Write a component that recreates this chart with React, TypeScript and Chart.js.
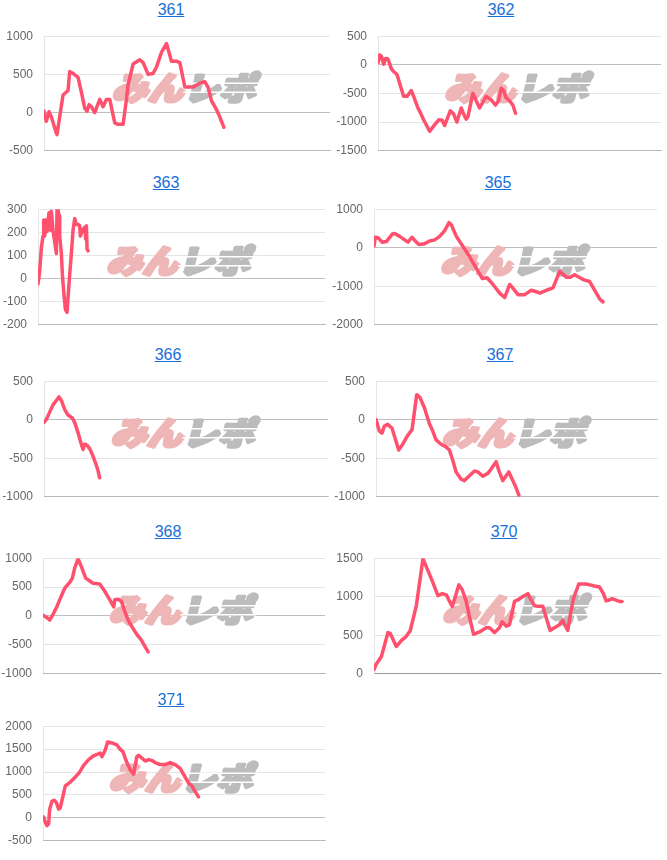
import React, { useEffect, useRef } from 'react';
import { Chart, registerables } from 'chart.js';

Chart.register(...registerables);

// ---- data (x = position in session, y = balance) ----
const x361 = [0, 7, 15, 22, 37, 39, 47, 57, 67, 72, 77, 85, 102, 112, 122, 129, 135, 142, 152, 167, 177, 187, 197, 212, 222, 237, 247, 252, 267, 287, 297, 312, 327, 337, 352, 367, 382, 397, 407, 422, 447, 467, 482, 492, 502, 517, 527, 539];
const y361 = [20, -115, 12, -58, -269, -288, -58, 231, 269, 288, 538, 519, 462, 269, 58, 19, 104, 77, 0, 173, 77, 173, 173, -135, -154, -154, 173, 365, 635, 692, 654, 500, 512, 596, 788, 904, 673, 673, 654, 335, 335, 385, 404, 327, 154, 38, -58, -192];

const x362 = [0, 5, 10, 17, 23, 30, 40, 47, 57, 65, 77, 87, 100, 107, 120, 127, 137, 155, 165, 183, 193, 200, 217, 227, 237, 250, 257, 265, 270, 285, 293, 305, 325, 340, 353, 362, 370, 377, 385, 395, 405, 413];
const y362 = [36, 173, 153, 10, 112, 102, -66, -117, -168, -321, -550, -550, -448, -550, -753, -830, -957, -1160, -1084, -957, -967, -1059, -804, -855, -998, -753, -855, -947, -906, -499, -601, -753, -550, -611, -702, -626, -407, -448, -575, -626, -702, -845];

const x363 = [0, 5, 10, 15, 17, 20, 23, 27, 30, 33, 37, 40, 45, 50, 55, 57, 60, 63, 65, 68, 70, 73, 77, 82, 87, 90, 95, 100, 105, 110, 115, 120, 125, 127, 133, 140, 143, 145, 147, 150];
const y363 = [-23, 32, 133, 184, 253, 184, 253, 203, 247, 285, 209, 291, 209, 158, 108, 297, 300, 272, 184, 139, 108, 19, -57, -133, -146, -82, 19, 108, 209, 260, 234, 234, 228, 184, 209, 222, 171, 228, 127, 120];

const x365 = [0, 4, 12, 25, 37, 55, 62, 77, 102, 114, 127, 135, 152, 167, 182, 197, 212, 225, 232, 247, 267, 287, 307, 325, 339, 357, 377, 392, 407, 415, 432, 452, 472, 487, 497, 517, 537, 557, 577, 589, 602, 622, 632, 647, 657, 677, 687];
const y365 = [45, 272, 257, 144, 159, 355, 370, 295, 144, 272, 144, 83, 106, 174, 204, 295, 446, 650, 597, 295, 30, -234, -537, -801, -779, -953, -1179, -1293, -953, -1028, -1217, -1217, -1104, -1141, -1179, -1104, -1043, -612, -763, -763, -703, -801, -839, -877, -1028, -1330, -1406];

const x366 = [0, 7, 17, 27, 37, 45, 52, 62, 72, 85, 92, 102, 112, 117, 122, 129, 137, 145, 155, 162, 167];
const y366 = [-34, 4, 99, 193, 250, 296, 250, 136, 61, 23, -34, -167, -318, -387, -318, -330, -375, -451, -565, -659, -754];

const x367 = [0, 10, 18, 25, 35, 48, 60, 68, 80, 95, 108, 115, 122, 132, 145, 160, 170, 180, 195, 210, 220, 230, 240, 255, 265, 280, 295, 305, 320, 335, 345, 360, 368, 380, 390, 398, 410, 418, 428];
const y367 = [4, -147, -174, -83, -60, -110, -280, -393, -318, -204, -129, 98, 325, 287, 155, -53, -147, -261, -318, -355, -393, -525, -677, -771, -790, -726, -665, -677, -733, -696, -639, -544, -658, -790, -726, -677, -790, -866, -979];

const x368 = [0, 10, 20, 30, 40, 50, 65, 80, 88, 95, 105, 115, 128, 140, 150, 170, 182, 195, 205, 212, 215, 225, 235, 245, 255, 265, 280, 295, 315];
const y368 = [15, -20, -70, 30, 140, 280, 480, 580, 655, 830, 990, 855, 655, 605, 565, 555, 455, 330, 230, 155, 280, 290, 255, 80, -70, -170, -310, -420, -620];

const x370 = [0, 7, 22, 42, 49, 67, 82, 97, 109, 127, 137, 147, 157, 177, 192, 205, 217, 227, 235, 245, 255, 265, 277, 287, 299, 317, 337, 347, 362, 377, 385, 397, 407, 422, 432, 447, 462, 472, 482, 495, 507, 517, 529, 542, 557, 567, 575, 582, 589, 599, 615, 637, 649, 662, 677, 689, 697, 707, 715, 725, 737, 745];
const y370 = [53, 128, 222, 535, 524, 354, 430, 486, 562, 882, 1184, 1493, 1391, 1184, 1014, 1040, 1025, 939, 875, 1014, 1154, 1090, 939, 731, 513, 543, 599, 599, 535, 599, 675, 618, 637, 939, 958, 1003, 1040, 958, 882, 875, 875, 731, 562, 599, 637, 694, 618, 562, 750, 976, 1165, 1165, 1154, 1139, 1127, 1040, 946, 958, 976, 958, 939, 939];

const x371 = [2, 7, 12, 17, 20, 27, 34, 40, 47, 52, 60, 67, 82, 97, 110, 122, 137, 152, 167, 172, 177, 187, 194, 207, 222, 232, 240, 250, 262, 272, 282, 287, 297, 307, 317, 327, 337, 352, 367, 382, 397, 412, 427, 437, 447, 457, 467];
const y371 = [19, -95, -172, -127, 191, 363, 382, 337, 191, 223, 477, 700, 782, 890, 998, 1145, 1272, 1355, 1399, 1412, 1336, 1482, 1654, 1634, 1590, 1495, 1444, 1240, 1049, 954, 1336, 1367, 1304, 1240, 1272, 1253, 1208, 1164, 1164, 1208, 1164, 1081, 890, 763, 700, 572, 458];

const titles = ['361', '362', '363', '365', '366', '367', '368', '370', '371'];
const xSeries = [x361, x362, x363, x365, x366, x367, x368, x370, x371];
const ySeries = [y361, y362, y363, y365, y366, y367, y368, y370, y371];
const xMaxes = [857, 850, 860, 849, 852, 845, 845, 862, 847];
const yMins = [-500, -1500, -200, -2000, -1000, -1000, -1000, 0, -500];
const yMaxes = [1000, 500, 300, 1000, 500, 500, 1000, 1500, 2000];
const ySteps = [500, 500, 100, 1000, 500, 500, 500, 500, 500];

// ---- layout (page pixels) ----
const BOXES = [
  { axis: 44, right: 330, top: 28, bottom: 159, titleX: 171 },
  { axis: 378, right: 661, top: 28, bottom: 159, titleX: 501 },
  { axis: 38, right: 325, top: 201, bottom: 333, titleX: 166 },
  { axis: 374, right: 657, top: 201, bottom: 333, titleX: 498 },
  { axis: 44, right: 328, top: 373, bottom: 505, titleX: 168 },
  { axis: 376, right: 658, top: 373, bottom: 505, titleX: 500 },
  { axis: 43, right: 325, top: 550, bottom: 682, titleX: 168 },
  { axis: 374, right: 661, top: 550, bottom: 682, titleX: 504 },
  { axis: 43, right: 325, top: 718, bottom: 849, titleX: 171 },
];

const LINE_COLOR = 'rgb(255, 80, 110)';
const FONT = 'Arial, "Liberation Sans", sans-serif';

const watermark = {
  id: 'wm',
  beforeDatasetsDraw(chart: any) {
    const { ctx, chartArea } = chart;
    const { left, right, top, bottom } = chartArea;
    const cx = (left + right) / 2;
    const cy = (top + bottom) / 2 - 7;
    ctx.save();
    ctx.translate(cx, cy);
    ctx.transform(1, 0, -0.25, 1, 0, 0);
    ctx.scale(1.12, 1);
    ctx.font = '900 32px "Noto Sans CJK JP", "Noto Sans CJK SC", sans-serif';
    ctx.textBaseline = 'middle';
    ctx.lineJoin = 'round';
    const w1 = ctx.measureText('みん').width;
    const w2 = ctx.measureText('レポ').width;
    const start = -(w1 + w2) / 2;
    ctx.lineWidth = 3.5;
    ctx.fillStyle = 'rgb(238, 182, 182)';
    ctx.strokeStyle = 'rgb(238, 182, 182)';
    ctx.strokeText('みん', start, 1);
    ctx.fillText('みん', start, 1);
    ctx.fillStyle = 'rgb(188, 188, 188)';
    ctx.strokeStyle = 'rgb(188, 188, 188)';
    ctx.strokeText('レポ', start + w1, 1);
    ctx.fillText('レポ', start + w1, 1);
    ctx.fillStyle = 'rgb(255,255,255)';
    ctx.fillRect(start + w1 - 2, -4, w2 + 4, 1.5);
    ctx.fillRect(start + w1 - 2, 5, w2 + 4, 1.5);
    ctx.restore();
  },
};

function Panel({ idx }: { idx: number }) {
  const ref = useRef<HTMLCanvasElement | null>(null);
  const box = BOXES[idx];
  const canvasLeft = box.axis - 45;
  const width = box.right - canvasLeft + 3;
  const height = box.bottom - box.top + 20;

  useEffect(() => {
    if (!ref.current) return;
    const xs = xSeries[idx];
    const ys = ySeries[idx];
    const chart = new Chart(ref.current, {
      type: 'line',
      data: {
        datasets: [
          {
            data: xs.map((x, i) => ({ x, y: ys[i] })),
            borderColor: LINE_COLOR,
            backgroundColor: LINE_COLOR,
            borderWidth: 3.5,
            pointRadius: 0,
            fill: false,
            tension: 0,
            borderJoinStyle: 'round',
            borderCapStyle: 'round',
          },
        ],
      },
      options: {
        animation: false,
        responsive: false,
        maintainAspectRatio: false,
        layout: { padding: { top: 10, bottom: 10, left: 0, right: 3 } },
        plugins: { legend: { display: false }, tooltip: { enabled: false }, title: { display: false } },
        scales: {
          x: {
            type: 'linear',
            min: 0,
            max: xMaxes[idx],
            ticks: { display: false },
            grid: { display: false, drawTicks: false },
            border: { display: true, color: 'rgba(0,0,0,0.2)' },
          },
          y: {
            type: 'linear',
            min: yMins[idx],
            max: yMaxes[idx],
            ticks: {
              stepSize: ySteps[idx],
              color: '#666',
              font: { family: FONT, size: 12 },
              padding: 11,
              callback: (v: any) => String(v),
            },
            grid: {
              drawTicks: false,
              color: (c: any) => (c.tick && c.tick.value === 0 ? 'rgba(0,0,0,0.25)' : 'rgba(0,0,0,0.1)'),
            },
            border: { display: true, color: 'rgba(0,0,0,0.1)' },
            afterFit: (s: any) => {
              s.width = 45;
            },
          },
        },
      } as any,
      plugins: [watermark],
    });
    return () => chart.destroy();
  }, [idx]);

  return (
    <>
      <div
        style={{
          position: 'absolute',
          left: box.titleX - 100,
          top: box.top - 27,
          width: 200,
          textAlign: 'center',
          fontFamily: FONT,
          fontSize: 16,
          lineHeight: 'normal',
        }}
      >
        <a href="#" style={{ color: '#1a6fd8', textDecoration: 'underline' }}>
          {titles[idx]}
        </a>
      </div>
      <canvas
        ref={ref}
        width={width}
        height={height}
        style={{ position: 'absolute', left: canvasLeft, top: box.top - 10, width, height }}
      />
    </>
  );
}

export default function App() {
  return (
    <div style={{ position: 'absolute', left: 0, top: 0, width: 667, height: 860, background: '#fff', overflow: 'hidden' }}>
      {titles.map((_, i) => (
        <Panel key={i} idx={i} />
      ))}
    </div>
  );
}
